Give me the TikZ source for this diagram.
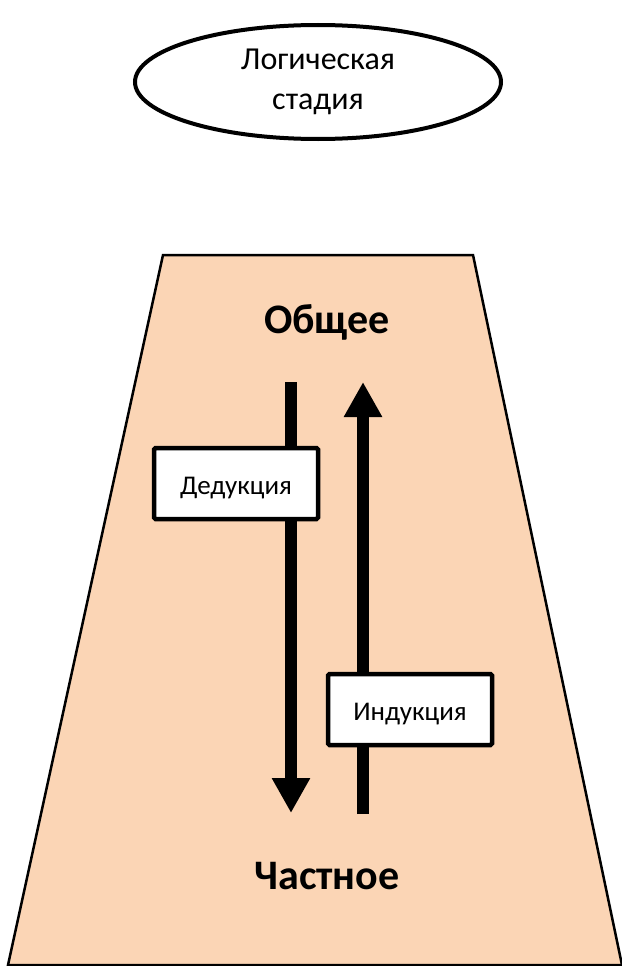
\documentclass[tikz,border=0pt]{standalone}
\usepackage{fontspec}
\setmainfont{Carlito}
\usetikzlibrary{arrows.meta,shapes.geometric}
\definecolor{peach}{HTML}{FBD5B5}

\begin{document}
\begin{tikzpicture}[x=1pt,y=-1pt]
                        \tikzset{Stage/.style={%
                                shape=ellipse,%
                                draw=black,%
                                line width=4pt,%
                                minimum width=366pt,%
                                minimum height=114pt,%
                                inner sep=0pt,%
                                align=center,%
                                font=\fontsize{32}{40}\selectfont,%
                            }}
                        \tikzset{Label/.style={%
                                shape=rectangle,%
                                draw=black,%
                                fill=white,%
                                line width=4.5pt,%
                                rounded corners=1.5pt,%
                                minimum width=164pt,%
                                minimum height=71pt,%
                                inner sep=0pt,%
                                text height=28pt,%
                                text depth=6pt,%
                                font=\fontsize{27}{30}\selectfont,%
                            }}
                        \tikzset{Level/.style={%
                                font=\bfseries\fontsize{42}{48}\selectfont,%
                                inner sep=0pt,%
                            }}
                        \tikzset{Flow/.style={%
                                line width=12pt,%
                                -{Triangle[width=36pt,length=35pt]},%
                            }}

                            \useasboundingbox (0,0) rectangle (621,966);
                            \draw[fill=peach, line width=2.5pt] (163,255) -- (473,255) -- (622,965) -- (8,965) -- cycle;

                            \node[Stage] (stage) at (318,82) {Логическая\\стадия};
                            \node[Level] (general) at (327,322) {Общее};
                            \node[Level] (particular) at (327,876) {Частное};

                            \coordinate (dtop) at (291,382);
                            \coordinate (dbot) at (291,813);
                            \coordinate (ibot) at (363,814);
                            \coordinate (itop) at (363,382);

                            \path (dtop) edge[Flow] (dbot);
                            \path (ibot) edge[Flow] (itop);

                            \node[Label] (deduct) at (236,483.5) {Дедукция};
                            \node[Label] (induct) at (410,709.5) {Индукция};
                    \end{tikzpicture}
\end{document}
